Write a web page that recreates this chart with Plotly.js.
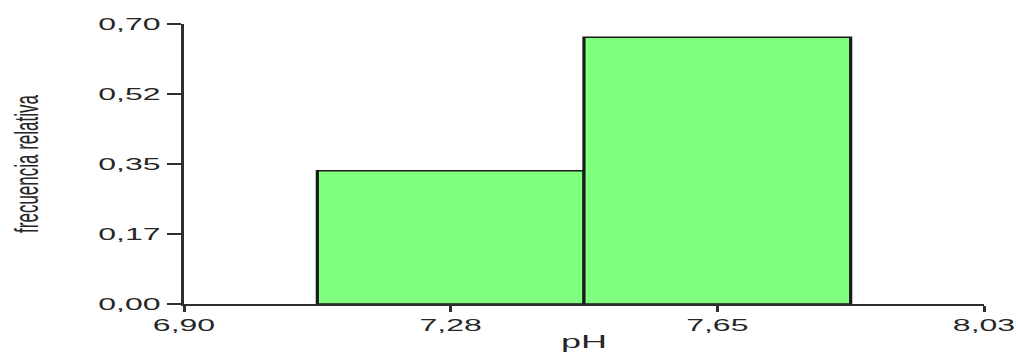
<!DOCTYPE html>
<html>
<head>
<meta charset="utf-8">
<script src="https://cdn.plot.ly/plotly-3.0.1.min.js"></script>
<style>
  html, body { margin: 0; padding: 0; background: #fff; overflow: hidden; }
  /* the figure is laid out at half width and stretched horizontally */
  #chart { width: 509px; height: 354px; transform: scaleX(2); transform-origin: 0 0; }
</style>
</head>
<body>
<div id="chart"></div>
<script>
// Histogram of pH: class midpoints, class width and relative frequency
const binCenters = [7.2767, 7.6533];
const binWidth = 0.3767;
const relFreq = [0.333, 0.667];

// Axis ticks
const xTickVals = [6.90, 7.2767, 7.6533, 8.03];
const xTickText = ['6,90', '7,28', '7,65', '8,03'];
const yTickVals = [0, 0.175, 0.35, 0.525, 0.70];
const yTickText = ['0,00', '0,17', '0,35', '0,52', '0,70'];

const stretch = 2;
const axisColor = '#2e2e2e';
const textColor = '#262626';
const family = 'Liberation Sans, Arial, sans-serif';
const tickFont = { family: family, size: 16, color: textColor };

const trace = {
  type: 'bar',
  x: binCenters,
  y: relFreq,
  width: binCenters.map(() => binWidth),
  marker: { color: '#80ff80', line: { color: '#1a1a1a', width: 1.6 } },
  hoverinfo: 'x+y'
};

const layout = {
  width: 1018 / stretch,
  height: 354,
  margin: { l: 184 / stretch, r: 34 / stretch, t: 24, b: 50 },
  paper_bgcolor: '#ffffff',
  plot_bgcolor: '#ffffff',
  showlegend: false,
  bargap: 0,
  xaxis: {
    range: [6.90, 8.03],
    tickmode: 'array',
    tickvals: xTickVals,
    ticktext: xTickText,
    showgrid: false,
    zeroline: false,
    showline: true,
    linecolor: axisColor,
    linewidth: 2,
    ticks: 'outside',
    ticklen: 6,
    tickwidth: 1.5,
    tickcolor: axisColor,
    tickfont: tickFont,
    title: { text: 'pH', font: { family: family, size: 18, color: textColor }, standoff: 2 }
  },
  yaxis: {
    range: [0, 0.70],
    tickmode: 'array',
    tickvals: yTickVals,
    ticktext: yTickText,
    showgrid: false,
    zeroline: false,
    showline: true,
    linecolor: axisColor,
    linewidth: 1.5,
    ticks: 'outside',
    ticklen: 7,
    tickwidth: 2,
    tickcolor: axisColor,
    tickfont: tickFont,
    title: { text: 'frecuencia relativa', font: { family: family, size: 17, color: textColor }, standoff: 25 }
  }
};

Plotly.newPlot('chart', [trace], layout, { displayModeBar: false, staticPlot: true });
</script>
</body>
</html>
